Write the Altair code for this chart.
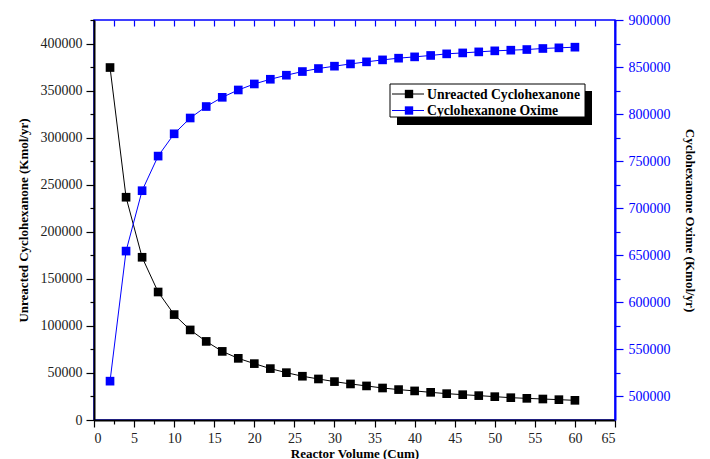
import altair as alt
import pandas as pd

VOLUME = list(range(2, 62, 2))
UNREACTED = [374500, 236700, 172900, 136000, 112000, 95700, 83500, 72900, 65500, 59900,
             54600, 50300, 46500, 43600, 40800, 38300, 36200, 34000, 32300, 30900,
             29400, 28000, 26900, 25900, 24800, 23700, 23000, 22300, 21600, 20900]
OXIME = [516000, 654300, 718500, 755300, 779000, 795800, 808000, 817800, 825600, 832000,
         837000, 841300, 845200, 848400, 850900, 853300, 855500, 857600, 859400, 860800,
         862300, 864000, 865000, 866100, 867200, 867900, 868600, 869700, 870400, 871100]
SERIES = ["Unreacted Cyclohexanone", "Cyclohexanone Oxime"]
COLORS = ["#000000", "#0000ff"]
X_TICKS = [i * 2.5 for i in range(27)]
YL_TICKS = [i * 25000 for i in range(18)]
YR_TICKS = [500000 + i * 25000 for i in range(17)]

df = pd.DataFrame({"V": VOLUME, "U": UNREACTED, "O": OXIME})

FONT = "Liberation Serif"
xs = alt.Scale(domain=[0, 65], nice=False, zero=False)
yls = alt.Scale(domain=[0, 425000], nice=False, zero=False)
yrs = alt.Scale(domain=[474700, 900000], nice=False, zero=False)

common = dict(labelFont=FONT, labelFontSize=14, titleFont=FONT, titleFontSize=13,
              titleFontWeight="bold", titleColor="#000000", grid=False)

x_bottom = alt.Axis(
    orient="bottom", values=X_TICKS, format="d",
    labelExpr="datum.value % 5 === 0 ? datum.label : ''",
    tickSize={"condition": {"test": "datum.value % 5 === 0", "value": 7}, "value": 4},
    domainColor="#000000", domainWidth=2, tickColor="#000000", tickWidth=1.2,
    labelColor="#222222", labelPadding=4, title="Reactor Volume (Cum)",
    titleY=27, titleBaseline="top", **common,
)
y_left = alt.Axis(
    orient="left", values=YL_TICKS, format="d",
    labelExpr="datum.value % 50000 === 0 ? datum.label : ''",
    tickSize={"condition": {"test": "datum.value % 50000 === 0", "value": 8}, "value": 4},
    domainColor="#000000", domainWidth=2, tickColor="#000000", tickWidth=1.2,
    labelColor="#222222", labelPadding=4, title="Unreacted Cyclohexanone (Kmol/yr)",
    titlePadding=10, **common,
)
x_top = alt.Axis(
    orient="top", values=X_TICKS, labels=False, domain=False, tickSize=6, offset=-6,
    tickColor="#0000ff", tickWidth=1.2, title=None, grid=False,
)
y_right = alt.Axis(
    orient="right", values=YR_TICKS, format="d",
    labelExpr="datum.value % 50000 === 0 ? datum.label : ''",
    tickSize={"condition": {"test": "datum.value % 50000 === 0", "value": 8}, "value": 5},
    domainColor="#0000ff", domainWidth=2, tickColor="#0000ff", tickWidth=1.2,
    labelColor="#0000ff", labelPadding=5, title="Cyclohexanone Oxime (Kmol/yr)",
    titlePadding=12, **common,
)

base = alt.Chart(df)
u_line = base.mark_line(color=COLORS[0], strokeWidth=1).encode(
    x=alt.X("V:Q", scale=xs, axis=x_bottom), y=alt.Y("U:Q", scale=yls, axis=y_left))
u_pts = base.mark_square(color=COLORS[0], size=75, opacity=1).encode(
    x=alt.X("V:Q", scale=xs, axis=None), y=alt.Y("U:Q", scale=yls, axis=None))
o_line = base.mark_line(color=COLORS[1], strokeWidth=1).encode(
    x=alt.X("V:Q", scale=xs, axis=x_top), y=alt.Y("O:Q", scale=yrs, axis=y_right))
o_pts = base.mark_square(color=COLORS[1], size=75, opacity=1).encode(
    x=alt.X("V:Q", scale=xs, axis=None), y=alt.Y("O:Q", scale=yrs, axis=None))

one = alt.Chart(pd.DataFrame({"k": [0]}))
legend_layers = [
    one.mark_rect(color="#000000").encode(
        x=alt.value(303), x2=alt.value(498), y=alt.value(71), y2=alt.value(105)),
    one.mark_rect(fill="#ffffff", stroke="#000000", strokeWidth=1).encode(
        x=alt.value(296), x2=alt.value(491), y=alt.value(64), y2=alt.value(97)),
]
for i, (name, col) in enumerate(zip(SERIES, COLORS)):
    yy = 74 + i * 16.5
    legend_layers += [
        one.mark_rule(color=col, strokeWidth=1).encode(
            x=alt.value(298), x2=alt.value(330), y=alt.value(yy)),
        one.mark_square(color=col, size=70, opacity=1).encode(
            x=alt.value(315), y=alt.value(yy)),
        one.mark_text(align="left", baseline="middle", font=FONT, fontSize=13.7,
                      fontWeight="bold", color="#000000", text=name).encode(
            x=alt.value(333), y=alt.value(yy + 0.5)),
    ]

chart = alt.layer(u_line, u_pts, o_line, o_pts, *legend_layers).resolve_scale(
    y="independent").resolve_axis(x="independent", y="independent").properties(
    width=521, height=400, autosize=alt.AutoSizeParams(type="none"),
    padding={"left": 86, "top": 12, "right": 87, "bottom": 45},
    background="#ffffff",
).configure_view(stroke="#0000ff", strokeWidth=1.5)

chart.save("out.html", embed_options={"renderer": "svg", "actions": False})
